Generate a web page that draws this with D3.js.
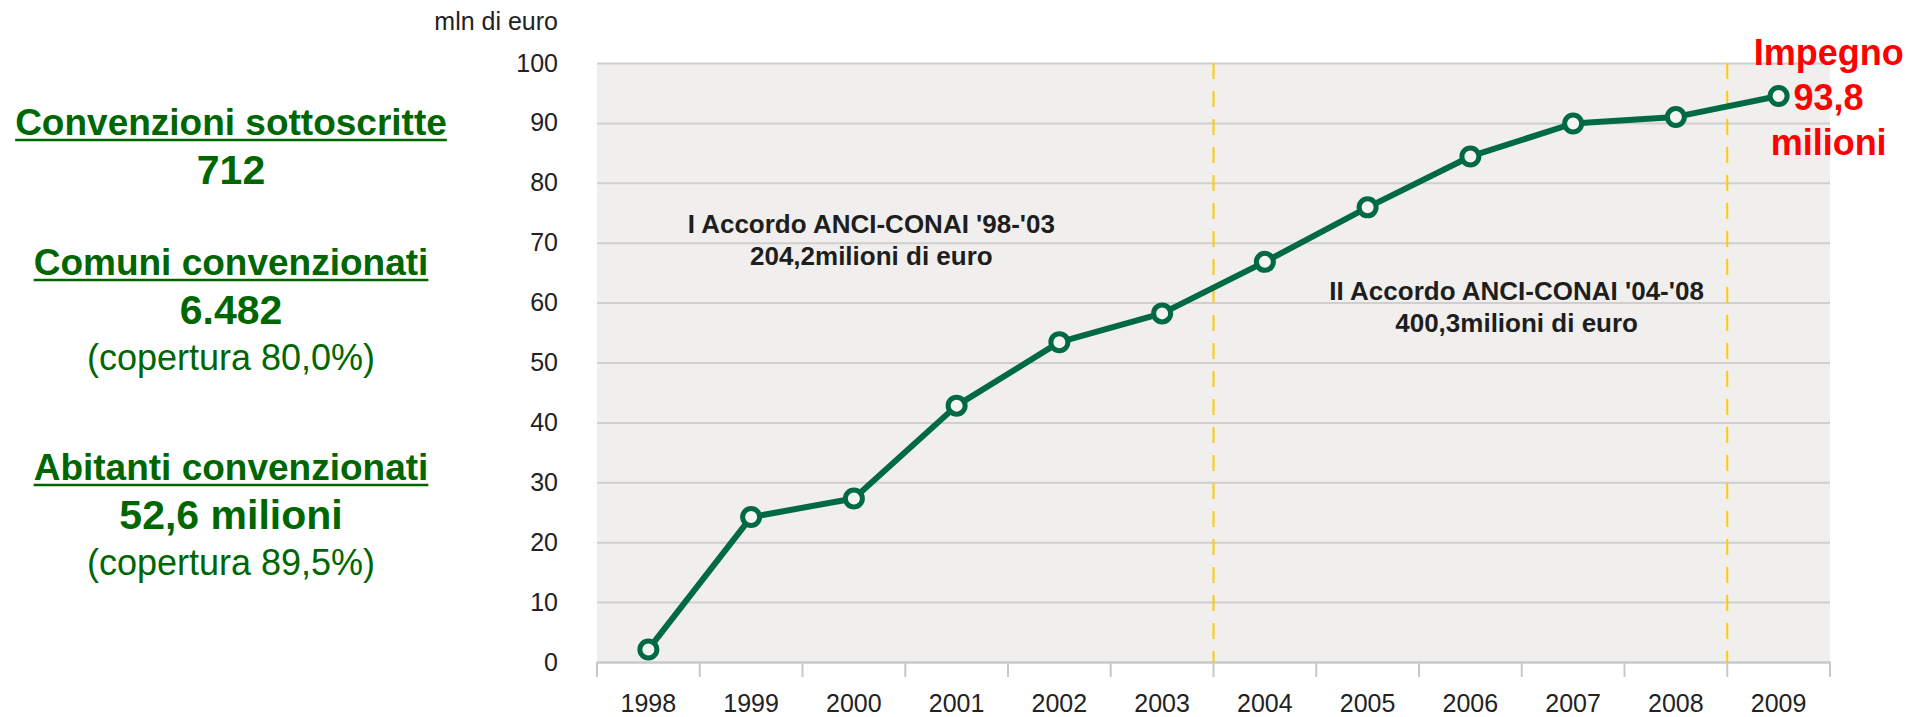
<!DOCTYPE html>
<html>
<head>
<meta charset="utf-8">
<script src="https://cdn.jsdelivr.net/npm/d3@7"></script>
<style>
  html, body { margin: 0; padding: 0; background: #ffffff; }
  svg { display: block; }
</style>
</head>
<body>
<svg id="chart" width="1923" height="717"></svg>
<script>
// ---- data ----
const years = ["1998","1999","2000","2001","2002","2003","2004","2005","2006","2007","2008","2009"];
const values = [2.1, 24.2, 27.3, 42.8, 53.4, 58.2, 66.8, 75.9, 84.4, 89.9, 91.0, 94.5];
const yTicks = [0, 10, 20, 30, 40, 50, 60, 70, 80, 90, 100];
const dividerYears = ["2004", "2009"];
const yUnitLabel = "mln di euro";
const noteLines1 = ["I Accordo ANCI-CONAI '98-'03", "204,2milioni di euro"];
const noteLines2 = ["II Accordo ANCI-CONAI '04-'08", "400,3milioni di euro"];
const noteYears = ["2000", "2006"];
const noteLevels = [71.6, 60.4];
const commitmentLines = ["Impegno", "93,8", "milioni"];
const summaryTitles = ["Convenzioni sottoscritte", "Comuni convenzionati", "Abitanti convenzionati"];
const summaryValues = ["712", "6.482", "52,6 milioni"];
const summaryNotes = ["", "(copertura 80,0%)", "(copertura 89,5%)"];

// ---- layout ----
const svg = d3.select("#chart");
const plot = { left: 597, right: 1830, top: 63, bottom: 662 };
const font = "'Liberation Sans', Arial, Helvetica, sans-serif";

const x = d3.scaleBand().domain(years).range([plot.left, plot.right]).paddingInner(0).paddingOuter(0);
const y = d3.scaleLinear().domain([0, 100]).range([plot.bottom, plot.top]);
const cx = d => x(d) + x.bandwidth() / 2;

// plot background
svg.append("rect")
  .attr("x", plot.left).attr("y", plot.top)
  .attr("width", plot.right - plot.left).attr("height", plot.bottom - plot.top)
  .attr("fill", "#f0efed");

// gridlines
const grid = svg.append("g").attr("transform", `translate(${plot.left},0)`)
  .call(d3.axisLeft(y).tickValues(yTicks).tickSize(-(plot.right - plot.left)).tickFormat(""));
grid.select(".domain").remove();
grid.selectAll("line").attr("stroke", "#cfcfcf").attr("stroke-width", 2);

// y axis labels
const yAxis = svg.append("g").attr("transform", `translate(${plot.left},0)`)
  .call(d3.axisLeft(y).tickValues(yTicks).tickSize(0).tickPadding(39));
yAxis.select(".domain").remove();
yAxis.selectAll("text").attr("font-family", font).attr("font-size", 25).attr("fill", "#222");

svg.append("text")
  .attr("x", plot.left - 39).attr("y", 30)
  .attr("text-anchor", "end")
  .attr("font-family", font).attr("font-size", 25).attr("fill", "#222")
  .text(yUnitLabel);

// x axis
const xAxis = svg.append("g").attr("transform", `translate(0,${plot.bottom})`)
  .call(d3.axisBottom(x).tickSize(0).tickPadding(32));
xAxis.select(".domain").attr("stroke", "#c8c8c8").attr("stroke-width", 2);
xAxis.selectAll("text").attr("font-family", font).attr("font-size", 25).attr("fill", "#222");
const bounds = years.map(d => x(d)).concat([x.range()[1]]);
svg.append("g").selectAll("line").data(bounds).join("line")
  .attr("x1", d => d).attr("x2", d => d)
  .attr("y1", plot.bottom).attr("y2", plot.bottom + 15)
  .attr("stroke", "#c8c8c8").attr("stroke-width", 2);

// dashed dividers
svg.append("g").selectAll("line").data(dividerYears).join("line")
  .attr("x1", d => x(d)).attr("x2", d => x(d))
  .attr("y1", plot.top).attr("y2", plot.bottom)
  .attr("stroke", "#ffcc00").attr("stroke-width", 2)
  .attr("stroke-dasharray", "16,12");

// period notes
const noteOffsets = [0.17, 0.45];
[noteLines1, noteLines2].forEach((lines, k) => {
  const mid = cx(noteYears[k]) + noteOffsets[k] * x.bandwidth();
  const t = svg.append("text")
    .attr("text-anchor", "middle")
    .attr("font-family", font).attr("font-size", 26).attr("font-weight", "bold").attr("fill", "#1e1e1e");
  lines.forEach((l, i) => {
    t.append("tspan").attr("x", mid).attr("y", y(noteLevels[k]) + i * 32).text(l);
  });
});

// line
const pts = years.map((d, i) => ({ year: d, v: values[i] }));
svg.append("path").datum(pts)
  .attr("fill", "none").attr("stroke", "#006a45").attr("stroke-width", 6)
  .attr("stroke-linejoin", "round")
  .attr("d", d3.line().x(d => cx(d.year)).y(d => y(d.v)));
svg.append("g").selectAll("circle").data(pts).join("circle")
  .attr("cx", d => cx(d.year)).attr("cy", d => y(d.v))
  .attr("r", 8.5).attr("fill", "#f4f4f2").attr("stroke", "#006a45").attr("stroke-width", 5);

// commitment label
const last = years[years.length - 1];
const ct = svg.append("text").attr("text-anchor", "middle")
  .attr("font-family", font).attr("font-size", 36).attr("font-weight", "bold").attr("fill", "#ff0000");
commitmentLines.forEach((l, i) => {
  ct.append("tspan").attr("x", cx(last) + 50).attr("y", 65 + i * 45).text(l);
});

// summary panel
const panelX = 231;
const titleBase = [135, 275, 480];
summaryTitles.forEach((t, i) => {
  const tt = svg.append("text").attr("x", panelX).attr("y", titleBase[i])
    .attr("text-anchor", "middle").attr("font-family", font)
    .attr("font-size", 37).attr("font-weight", "bold").attr("fill", "#006600").text(t);
  const w = tt.node().getComputedTextLength();
  svg.append("line")
    .attr("x1", panelX - w / 2).attr("x2", panelX + w / 2)
    .attr("y1", titleBase[i] + 5).attr("y2", titleBase[i] + 5)
    .attr("stroke", "#006600").attr("stroke-width", 2.5);
  svg.append("text").attr("x", panelX).attr("y", titleBase[i] + 49)
    .attr("text-anchor", "middle").attr("font-family", font)
    .attr("font-size", 41).attr("font-weight", "bold").attr("fill", "#006600").text(summaryValues[i]);
  if (summaryNotes[i]) {
    svg.append("text").attr("x", panelX).attr("y", titleBase[i] + 95)
      .attr("text-anchor", "middle").attr("font-family", font)
      .attr("font-size", 36).attr("fill", "#006600").text(summaryNotes[i]);
  }
});
</script>
</body>
</html>
